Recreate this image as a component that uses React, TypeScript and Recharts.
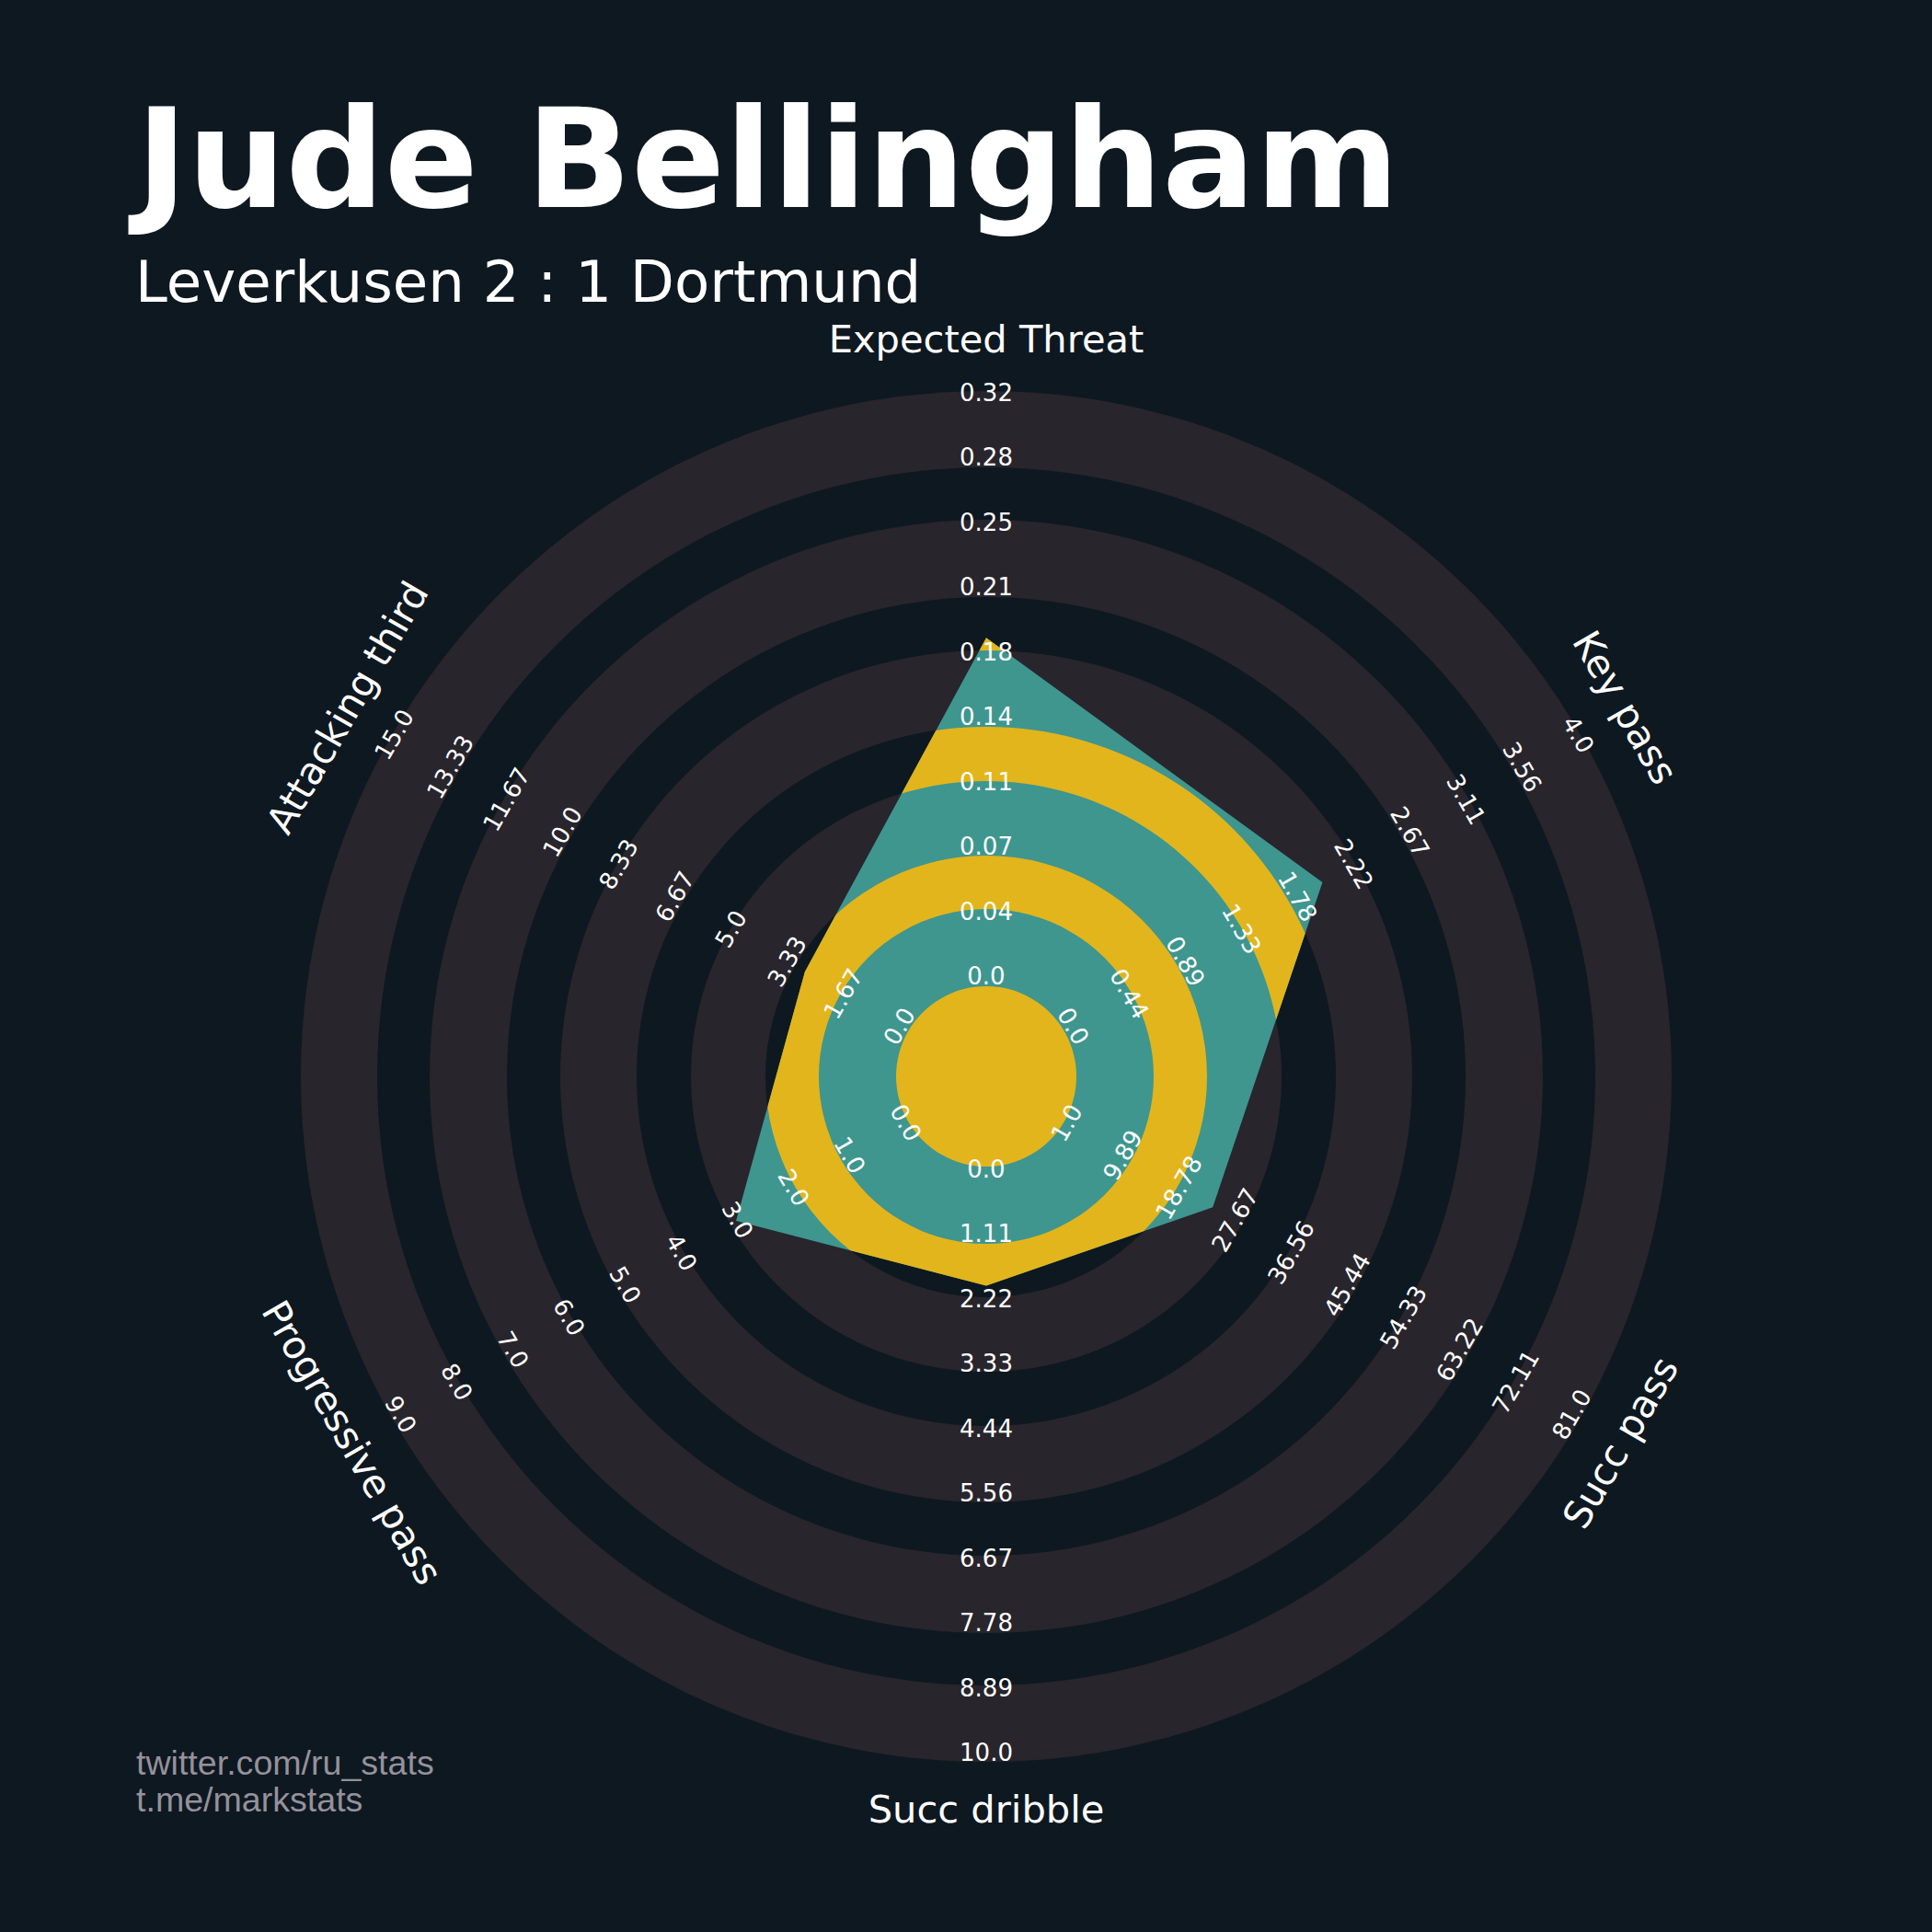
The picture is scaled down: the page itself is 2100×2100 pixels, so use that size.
import { PieChart, Pie, RadarChart, Radar, PolarAngleAxis, PolarRadiusAxis } from 'recharts';

// canvas + polar centre
const W = 2100;
const H = 2100;
const CX = 1072;
const CY = 1170;

const BG = '#0E1820';
const RING = '#28252C';
const TEAL = '#3E968F';
const GOLD = '#E2B51C';
const FOOT = '#95919B';
const FONT = '"DejaVu Sans", sans-serif';

// radar axes, clockwise from the top
const params = ['Expected Threat', 'Key pass', 'Succ pass', 'Succ dribble', 'Progressive pass', 'Attacking third'];
const lows = [0, 0, 1, 0, 0, 0];
const highs = [0.32, 4, 81, 10, 9, 15];
const values = [0.187, 2, 24, 2, 3, 3];

// range labels along every axis, inside -> outside
const xtTicks = ['0.0', '0.04', '0.07', '0.11', '0.14', '0.18', '0.21', '0.25', '0.28', '0.32'];
const keyPassTicks = ['0.0', '0.44', '0.89', '1.33', '1.78', '2.22', '2.67', '3.11', '3.56', '4.0'];
const succPassTicks = ['1.0', '9.89', '18.78', '27.67', '36.56', '45.44', '54.33', '63.22', '72.11', '81.0'];
const dribbleTicks = ['0.0', '1.11', '2.22', '3.33', '4.44', '5.56', '6.67', '7.78', '8.89', '10.0'];
const progPassTicks = ['0.0', '1.0', '2.0', '3.0', '4.0', '5.0', '6.0', '7.0', '8.0', '9.0'];
const thirdTicks = ['0.0', '1.67', '3.33', '5.0', '6.67', '8.33', '10.0', '11.67', '13.33', '15.0'];
const tickLabels = [xtTicks, keyPassTicks, succPassTicks, dribbleTicks, progPassTicks, thirdTicks];

// text rotation per axis (tangent to the circles)
const rotations = [0, 60, -60, 0, 60, -60];

// ring bands in px: grey ones are drawn on the background,
// the others only show (in gold) inside the radar shape
const greyRings = [[98, 182], [240, 321], [380, 463], [521, 605], [662, 745]];
const goldRings = [[0, 98], [182, 240], [321, 380], [463, 521], [605, 662]];

const levels = [0, 1, 2, 3, 4, 5, 6, 7, 8, 9];

const radarData = params.map((p, i) => {
  const row: any = { axis: p, value: (values[i] - lows[i]) / (highs[i] - lows[i]), name: 1 };
  levels.forEach((k) => {
    row[`t${k}`] = k / (levels.length - 1);
  });
  return row;
});

const layer = { position: 'absolute' as const, left: 0, top: 0 };
const noMargin = { top: 0, right: 0, bottom: 0, left: 0 };

function Rings({ bands, color }: { bands: number[][]; color: string }) {
  return (
    <PieChart width={W} height={H} margin={noMargin}>
      {bands.map(([r0, r1], i) => (
        <Pie
          key={i}
          data={[{ v: 1 }]}
          dataKey="v"
          cx={CX}
          cy={CY}
          innerRadius={r0}
          outerRadius={r1}
          startAngle={90}
          endAngle={-270}
          fill={color}
          stroke="none"
          label={false}
          labelLine={false}
          isAnimationActive={false}
        />
      ))}
    </PieChart>
  );
}

const ShapeWithClip = (props: any) => {
  const pts = (props.points || []).map((p: any) => `${p.x},${p.y}`).join(' ');
  return (
    <g>
      <defs>
        <clipPath id="radar-clip">
          <polygon points={pts} />
        </clipPath>
      </defs>
      <polygon points={pts} fill={TEAL} stroke="none" />
    </g>
  );
};

const tickDot = (k: number) => (p: any) => {
  const i = p.index;
  return (
    <text
      key={`t${k}-${i}`}
      x={p.cx}
      y={p.cy}
      dy={-4}
      textAnchor="middle"
      dominantBaseline="central"
      fill="#ffffff"
      fontSize={26}
      fontFamily={FONT}
      transform={`rotate(${rotations[i]} ${p.cx} ${p.cy})`}
    >
      {tickLabels[i][k]}
    </text>
  );
};

const nameDot = (p: any) => {
  const i = p.index;
  return (
    <text
      key={`n-${i}`}
      x={p.cx}
      y={p.cy}
      dy={-3}
      textAnchor="middle"
      dominantBaseline="central"
      fill="#ffffff"
      fontSize={41.6}
      fontFamily={FONT}
      transform={`rotate(${rotations[i]} ${p.cx} ${p.cy})`}
    >
      {params[i]}
    </text>
  );
};

export default function App() {
  return (
    <div style={{ position: 'absolute', left: 0, top: 0, width: W, height: H, background: BG, overflow: 'hidden', fontFamily: FONT }}>
      {/* background rings */}
      <div style={layer}>
        <Rings bands={greyRings} color={RING} />
      </div>

      {/* player shape */}
      <div style={layer}>
        <RadarChart width={W} height={H} data={radarData} cx={CX} cy={CY} innerRadius={98} outerRadius={746} margin={noMargin}>
          <PolarAngleAxis dataKey="axis" tick={false} axisLine={false} tickLine={false} />
          <PolarRadiusAxis domain={[0, 1]} tick={false} axisLine={false} tickLine={false} />
          <Radar dataKey="value" shape={ShapeWithClip} dot={false} isAnimationActive={false} />
        </RadarChart>
      </div>

      {/* rings seen through the shape */}
      <div style={{ ...layer, clipPath: 'url(#radar-clip)' }}>
        <Rings bands={goldRings} color={GOLD} />
      </div>

      {/* range labels */}
      <div style={layer}>
        <RadarChart width={W} height={H} data={radarData} cx={CX} cy={CY} innerRadius={105} outerRadius={739} margin={noMargin}>
          <PolarAngleAxis dataKey="axis" tick={false} axisLine={false} tickLine={false} />
          <PolarRadiusAxis domain={[0, 1]} tick={false} axisLine={false} tickLine={false} />
          {levels.map((k) => (
            <Radar key={k} dataKey={`t${k}`} fill="none" stroke="none" dot={tickDot(k)} isAnimationActive={false} />
          ))}
        </RadarChart>
      </div>

      {/* parameter names */}
      <div style={layer}>
        <RadarChart width={W} height={H} data={radarData} cx={CX} cy={CY} innerRadius={0} outerRadius={799} margin={noMargin}>
          <PolarAngleAxis dataKey="axis" tick={false} axisLine={false} tickLine={false} />
          <PolarRadiusAxis domain={[0, 1]} tick={false} axisLine={false} tickLine={false} />
          <Radar dataKey="name" fill="none" stroke="none" dot={nameDot} isAnimationActive={false} />
        </RadarChart>
      </div>

      {/* titles and credits */}
      <svg width={W} height={H} style={layer}>
        <text x={148} y={225} fill="#ffffff" fontFamily={FONT} fontWeight="bold" fontSize={150}>
          Jude Bellingham
        </text>
        <text x={147} y={328} fill="#ffffff" fontFamily={FONT} fontSize={62.5}>
          Leverkusen 2 : 1 Dortmund
        </text>
        <text x={148} y={1929} fill={FOOT} fontFamily='"Liberation Sans", Arial, sans-serif' fontSize={37.6}>
          twitter.com/ru_stats
        </text>
        <text x={148} y={1969} fill={FOOT} fontFamily='"Liberation Sans", Arial, sans-serif' fontSize={37.6}>
          t.me/markstats
        </text>
      </svg>
    </div>
  );
}
